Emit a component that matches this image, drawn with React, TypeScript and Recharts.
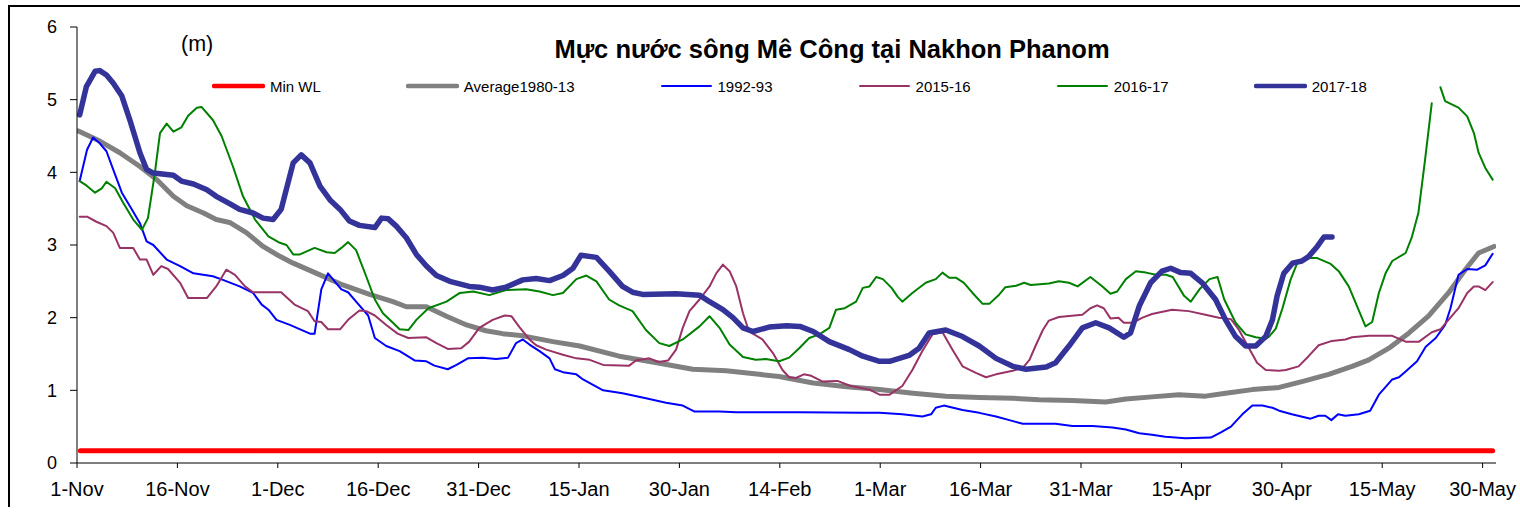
import React from "react";
import { LineChart, Line, XAxis, YAxis, Legend } from "recharts";

// day index from 1-Nov (points sit in the middle of each day slot)
const X_TICKS = [0, 15, 30, 45, 60, 75, 90, 105, 120, 135, 150, 165, 180, 195, 210];
const X_LABELS = [
  "1-Nov", "16-Nov", "1-Dec", "16-Dec", "31-Dec", "15-Jan", "30-Jan", "14-Feb",
  "1-Mar", "16-Mar", "31-Mar", "15-Apr", "30-Apr", "15-May", "30-May",
];
const Y_TICKS = [0, 1, 2, 3, 4, 5, 6];

type Pt = [number, number | null];

const MIN_WL: Pt[] = [[0.5, 0.17], [211.5, 0.17]];

const AVG_1980_13: Pt[] = [
  [0.2, 4.57], [3.4, 4.43], [6.4, 4.27], [9.4, 4.08], [11.9, 3.9], [14.4, 3.67], [16.4, 3.54],
  [18.9, 3.44], [20.8, 3.35], [22.8, 3.31], [25.3, 3.17], [27.8, 2.98], [29.8, 2.87], [32.3, 2.75],
  [35.8, 2.61], [39.7, 2.45], [43.7, 2.32], [47.2, 2.22], [49.2, 2.15], [52.2, 2.15], [55.2, 2.02],
  [58.2, 1.9], [61.1, 1.82], [63.6, 1.78], [66.6, 1.75], [71.1, 1.67], [75.1, 1.61], [81, 1.47],
  [86, 1.39], [92, 1.29], [97, 1.27], [101.9, 1.22], [104.9, 1.19], [110, 1.1], [115, 1.05],
  [119.9, 1.01], [124.9, 0.96], [129.8, 0.92], [134.8, 0.9], [139.8, 0.89], [143.7, 0.87],
  [148.7, 0.86], [153.7, 0.84], [156.7, 0.88], [160.6, 0.91], [164.6, 0.94], [168.6, 0.92],
  [171.6, 0.96], [175.6, 1.01], [179.6, 1.04], [183, 1.12], [187, 1.22], [190.5, 1.33], [193, 1.42],
  [196, 1.58], [199, 1.79], [201.9, 2.02], [204.9, 2.34], [207.4, 2.66], [209.4, 2.89], [211.7, 2.98],
];

const Y1992_93: Pt[] = [
  [0.4, 3.88], [1.5, 4.31], [2.4, 4.48], [3.4, 4.4], [4.4, 4.29], [5.4, 4.04], [6.7, 3.72], [8.2, 3.49],
  [9.4, 3.3], [10.4, 3.05], [11.4, 3.0], [13.4, 2.8], [15.4, 2.71], [17.4, 2.61], [20.3, 2.57],
  [21.8, 2.52], [24.3, 2.43], [26.3, 2.34], [27.6, 2.18], [28.6, 2.11], [29.8, 1.97], [31.8, 1.9],
  [34.8, 1.78], [35.5, 1.78], [36.5, 2.39], [37.5, 2.61], [39.5, 2.39], [40.5, 2.35], [41.7, 2.22],
  [43.5, 2.03], [44.5, 1.72], [46.2, 1.61], [48.2, 1.54], [50.5, 1.41], [52.2, 1.4], [53.4, 1.34],
  [55.4, 1.29], [56.7, 1.35], [58.4, 1.44], [60.6, 1.45], [62.6, 1.43], [64.4, 1.45], [65.6, 1.65],
  [66.6, 1.7], [67.6, 1.63], [69.1, 1.54], [70.6, 1.44], [71.4, 1.29], [72.6, 1.25], [74.6, 1.22],
  [75.6, 1.15], [78.6, 1.0], [81.5, 0.96], [85, 0.89], [88, 0.83], [90.5, 0.79], [92.2, 0.71],
  [96, 0.71], [98.5, 0.7], [108, 0.7], [117.4, 0.69], [119.9, 0.69], [123.3, 0.67], [126.3, 0.64],
  [127.6, 0.67], [128.3, 0.76], [129.5, 0.79], [132.3, 0.73], [134.8, 0.69], [137.3, 0.64],
  [139.3, 0.59], [141.3, 0.54], [143.7, 0.54], [146.2, 0.54], [148.7, 0.51], [151.7, 0.51],
  [154.7, 0.49], [156.7, 0.46], [158.7, 0.41], [160.6, 0.39], [162.6, 0.36], [165.6, 0.34],
  [169.4, 0.35], [170.9, 0.42], [172.4, 0.5], [174.1, 0.67], [175.6, 0.79], [177.1, 0.79],
  [178.6, 0.76], [179.6, 0.72], [181.5, 0.67], [184.3, 0.61], [185.5, 0.65], [186.5, 0.65],
  [187.4, 0.59], [188.4, 0.67], [189.5, 0.65], [191.5, 0.67], [193.2, 0.72], [194.5, 0.94],
  [196.5, 1.15], [197.5, 1.18], [198.5, 1.26], [200.2, 1.4], [201.5, 1.6], [203, 1.72], [204.4, 1.9],
  [205.2, 2.13], [206.4, 2.59], [207.7, 2.67], [209.2, 2.66], [210.4, 2.72], [211.5, 2.88],
];

const Y2015_16: Pt[] = [
  [0.4, 3.39], [1.5, 3.39], [2.9, 3.32], [4.4, 3.26], [5.4, 3.17], [6.4, 2.96], [8.4, 2.96], [9.4, 2.8],
  [10.4, 2.8], [11.4, 2.59], [12.6, 2.71], [13.6, 2.67], [15.4, 2.48], [16.6, 2.27], [19.4, 2.27],
  [20.8, 2.43], [22.3, 2.66], [23.6, 2.59], [25.1, 2.43], [26.3, 2.35], [30.5, 2.35], [32.5, 2.18],
  [34.5, 2.09], [35.5, 1.95], [36.5, 1.94], [37.5, 1.84], [39.3, 1.84], [40.5, 1.97], [42.2, 2.1],
  [43.2, 2.09], [44.5, 2.03], [46.2, 1.9], [47.9, 1.78], [49.5, 1.72], [52.2, 1.73], [53.7, 1.65],
  [55.4, 1.57], [57.4, 1.58], [58.6, 1.67], [60.1, 1.86], [62.1, 1.97], [63.9, 2.03], [64.9, 2.02],
  [66.1, 1.87], [67.6, 1.7], [68.6, 1.62], [70.1, 1.56], [72.6, 1.49], [74.6, 1.44], [76.6, 1.42],
  [78.6, 1.35], [82.5, 1.34], [83.5, 1.41], [85.5, 1.44], [86.9, 1.39], [88.3, 1.41], [89.5, 1.56],
  [90.5, 1.86], [91.5, 2.09], [93, 2.25], [94.5, 2.43], [95.5, 2.61], [96.5, 2.73], [97.5, 2.64],
  [98.5, 2.43], [99.5, 2.06], [100.4, 1.81], [102.4, 1.7], [104, 1.51], [105.4, 1.28], [106.4, 1.18],
  [107.4, 1.17], [108.6, 1.22], [109.7, 1.2], [111.4, 1.12], [113.6, 1.13], [115.6, 1.06],
  [118.4, 1.01], [119.9, 0.94], [121.4, 0.94], [123.3, 1.06], [124.8, 1.28], [126.3, 1.54],
  [127.8, 1.77], [129.3, 1.8], [130.8, 1.56], [132.3, 1.33], [134.3, 1.24], [135.8, 1.18],
  [137.3, 1.22], [139.8, 1.27], [141.3, 1.31], [142.3, 1.42], [143.2, 1.61], [144.3, 1.83],
  [145.2, 1.96], [146.7, 2.01], [150.2, 2.04], [151.4, 2.13], [152.4, 2.17], [153.4, 2.13],
  [154.4, 1.99], [155.6, 2.0], [156.4, 1.93], [157.7, 1.93], [159.2, 2.0], [160.6, 2.05],
  [163.6, 2.11], [166.1, 2.09], [168.6, 2.04], [170.6, 2.0], [172.4, 1.98], [173.6, 1.83],
  [175.1, 1.58], [176.3, 1.38], [177.6, 1.28], [179.6, 1.27], [180.6, 1.28], [182.5, 1.33],
  [184, 1.47], [185.5, 1.62], [187.5, 1.68], [189.5, 1.7], [190.5, 1.73], [193, 1.75], [196.5, 1.75],
  [198.5, 1.67], [200.5, 1.67], [202.4, 1.8], [203.7, 1.84], [204.9, 1.97], [206.4, 2.13],
  [207.7, 2.34], [208.7, 2.43], [209.4, 2.43], [210.4, 2.38], [211.5, 2.49],
];

const Y2016_17: Pt[] = [
  [0.4, 3.88], [1.4, 3.82], [2.7, 3.72], [3.7, 3.78], [4.4, 3.87], [5.7, 3.78], [6.9, 3.58], [8.4, 3.35],
  [9.7, 3.21], [10.6, 3.37], [11.6, 3.97], [12.4, 4.54], [13.4, 4.67], [14.4, 4.56], [15.6, 4.62],
  [16.6, 4.78], [17.9, 4.89], [18.6, 4.9], [20.3, 4.72], [21.6, 4.5], [23.3, 4.08], [24.8, 3.67],
  [26.6, 3.35], [28.6, 3.12], [30.3, 3.03], [31.3, 3.0], [32.3, 2.87], [33.3, 2.87], [35.5, 2.96],
  [37.3, 2.9], [38.5, 2.89], [39.5, 2.96], [40.5, 3.04], [41.7, 2.93], [43.2, 2.57], [44.5, 2.25],
  [45.7, 2.06], [47.2, 1.93], [48.2, 1.84], [49.5, 1.83], [50.7, 1.97], [52.5, 2.13], [55.2, 2.22],
  [57.2, 2.34], [59.2, 2.36], [61.6, 2.31], [64.1, 2.38], [67.1, 2.39], [69.1, 2.36], [71.1, 2.31],
  [72.6, 2.34], [74.6, 2.53], [76.1, 2.58], [77.6, 2.5], [79.5, 2.25], [81, 2.17], [83, 2.09],
  [85, 1.83], [87, 1.65], [88.5, 1.61], [90.5, 1.7], [93, 1.88], [94.5, 2.02], [96, 1.86],
  [97.5, 1.63], [99.5, 1.46], [101.4, 1.42], [102.9, 1.43], [104.9, 1.4], [106.4, 1.45],
  [107.9, 1.58], [109.4, 1.72], [110.9, 1.77], [112.4, 1.86], [113.4, 2.11], [114.7, 2.13],
  [116.4, 2.22], [117.4, 2.41], [118.4, 2.43], [119.4, 2.56], [120.4, 2.53], [121.7, 2.41],
  [122.6, 2.29], [123.3, 2.22], [124.8, 2.34], [126.8, 2.48], [128.3, 2.53], [129.3, 2.62],
  [130.3, 2.55], [131.3, 2.55], [132.5, 2.48], [133.8, 2.34], [135.3, 2.19], [136.3, 2.19],
  [137.8, 2.32], [138.7, 2.42], [140.3, 2.44], [141.5, 2.48], [142.5, 2.45], [145.2, 2.47],
  [146.7, 2.5], [148.2, 2.48], [149.5, 2.43], [151.4, 2.56], [153.2, 2.43], [154.4, 2.33],
  [155.4, 2.36], [156.7, 2.53], [158.2, 2.64], [159.7, 2.62], [161.2, 2.59], [162.7, 2.59],
  [163.7, 2.56], [165.4, 2.3], [166.4, 2.22], [167.7, 2.39], [169.2, 2.53], [170.4, 2.56],
  [171.4, 2.25], [173.1, 1.93], [174.6, 1.77], [176.1, 1.73], [177.6, 1.71], [178.1, 1.74],
  [179.1, 1.85], [180.1, 2.13], [181.3, 2.52], [182.3, 2.75], [183.3, 2.82], [185.3, 2.82],
  [187.3, 2.74], [188.5, 2.64], [190, 2.43], [192.5, 1.88], [193.5, 1.94], [194.5, 2.34],
  [195.5, 2.61], [196.5, 2.78], [198.5, 2.89], [199.4, 3.1], [200.4, 3.44], [201.4, 4.17],
  [202.4, 4.95], [203, null], [203.7, 5.17], [204.4, 4.98], [206.4, 4.89], [207.7, 4.77],
  [208.7, 4.54], [209.4, 4.27], [210.4, 4.06], [211.5, 3.9],
];

const Y2017_18: Pt[] = [
  [0.4, 4.79], [1.4, 5.18], [2.7, 5.39], [3.4, 5.4], [4.4, 5.34], [5.4, 5.23], [6.7, 5.05], [7.9, 4.72],
  [9.4, 4.27], [10.4, 4.04], [11.4, 3.99], [14.4, 3.96], [15.6, 3.88], [17.4, 3.84], [19.4, 3.76],
  [20.8, 3.67], [22.8, 3.57], [24.3, 3.49], [26.3, 3.44], [27.8, 3.37], [29.3, 3.35], [30.5, 3.49],
  [32.3, 4.13], [33.5, 4.24], [34.8, 4.13], [36.3, 3.81], [37.8, 3.62], [39.3, 3.49], [40.7, 3.33],
  [42.2, 3.27], [44.5, 3.24], [45.5, 3.37], [46.5, 3.36], [47.7, 3.26], [49.2, 3.1], [50.7, 2.87],
  [52.2, 2.71], [53.7, 2.58], [55.7, 2.5], [58.6, 2.43], [60.1, 2.42], [62.1, 2.38], [64.1, 2.42],
  [66.6, 2.52], [68.6, 2.54], [70.6, 2.51], [72.6, 2.58], [74.1, 2.68], [75.3, 2.86], [77.6, 2.83],
  [79.5, 2.64], [81.5, 2.43], [83, 2.35], [84.5, 2.32], [89.5, 2.33], [93, 2.31], [94.5, 2.22],
  [96.5, 2.11], [98, 2.0], [99.5, 1.86], [101, 1.81], [103.4, 1.87], [106, 1.89], [108, 1.88],
  [110, 1.81], [112.4, 1.67], [115.4, 1.56], [117.4, 1.47], [119.9, 1.4], [121.4, 1.4], [124.3, 1.48],
  [125.8, 1.58], [127.3, 1.79], [129.8, 1.83], [132.3, 1.74], [134.8, 1.61], [137.3, 1.44],
  [139.8, 1.33], [141.8, 1.29], [144.8, 1.32], [146.2, 1.38], [148.2, 1.61], [150.2, 1.86],
  [152.2, 1.93], [154.2, 1.86], [156.4, 1.73], [157.4, 1.79], [158.7, 2.16], [160.4, 2.48],
  [162.1, 2.64], [163.4, 2.68], [164.9, 2.62], [166.4, 2.61], [168.1, 2.48], [170.1, 2.25],
  [171.6, 1.97], [173.1, 1.74], [174.6, 1.61], [176.1, 1.61], [177.6, 1.74], [178.6, 1.97],
  [179.3, 2.3], [180.3, 2.61], [181.6, 2.75], [183, 2.78], [184, 2.84], [185.3, 2.98], [186.3, 3.11],
  [187.5, 3.11],
];

const SERIES = [
  { name: "Min WL", data: MIN_WL, color: "#FF0000", width: 5, legendWidth: 4.5 },
  { name: "Average1980-13", data: AVG_1980_13, color: "#808080", width: 5, legendWidth: 4.5 },
  { name: "1992-93", data: Y1992_93, color: "#0000FF", width: 2, legendWidth: 2 },
  { name: "2015-16", data: Y2015_16, color: "#993366", width: 2, legendWidth: 2 },
  { name: "2016-17", data: Y2016_17, color: "#008000", width: 2, legendWidth: 2 },
  { name: "2017-18", data: Y2017_18, color: "#333399", width: 5.5, legendWidth: 4.5 },
];

const FONT = "Arial, 'Liberation Sans', sans-serif";

const toRows = (pts: Pt[]) => pts.map(([d, v]) => ({ d, v }));

const LegendRow = () => (
  <div style={{ display: "flex", alignItems: "center", gap: 85, fontFamily: FONT, fontSize: 15, color: "#000" }}>
    {SERIES.map((s) => (
      <div key={s.name} style={{ display: "flex", alignItems: "center", height: 20, whiteSpace: "nowrap" }}>
        <svg width={53} height={8} style={{ display: "block" }}>
          <line x1={2} x2={51} y1={4} y2={4} stroke={s.color} strokeWidth={s.legendWidth} strokeLinecap="round" />
        </svg>
        <span style={{ marginLeft: 5 }}>{s.name}</span>
      </div>
    ))}
  </div>
);

export default function App() {
  return (
    <div
      style={{
        position: "absolute",
        top: 5,
        left: 8,
        width: 1510,
        height: 500,
        borderTop: "2px solid #000",
        borderLeft: "2px solid #000",
        background: "#fff",
        fontFamily: FONT,
      }}
    >
      <LineChart width={1508} height={496} margin={{ top: 20, right: 22, bottom: 0, left: 0 }}>
        <XAxis
          dataKey="d"
          type="number"
          domain={[0, 212]}
          ticks={X_TICKS}
          allowDataOverflow
          tickFormatter={(v: number) => X_LABELS[X_TICKS.indexOf(v)] ?? ""}
          tick={{ fontSize: 20, fill: "#000", fontFamily: FONT }}
          tickSize={5}
          tickMargin={14}
          height={40}
          axisLine={{ stroke: "#000" }}
          tickLine={{ stroke: "#000" }}
          interval={0}
        />
        <YAxis
          type="number"
          domain={[0, 6]}
          ticks={Y_TICKS}
          tick={{ fontSize: 18, fill: "#000", fontFamily: FONT }}
          tickSize={7}
          tickMargin={13}
          width={67}
          axisLine={{ stroke: "#000" }}
          tickLine={{ stroke: "#000" }}
          interval={0}
        />
        <Legend
          layout="horizontal"
          verticalAlign="middle"
          align="center"
          content={<LegendRow />}
          wrapperStyle={{ top: 69, left: 202, width: 1250 }}
        />
        {SERIES.map((s) => (
          <Line
            key={s.name}
            name={s.name}
            data={toRows(s.data)}
            dataKey="v"
            type="linear"
            stroke={s.color}
            strokeWidth={s.width}
            strokeLinecap="round"
            strokeLinejoin="round"
            dot={false}
            activeDot={false}
            isAnimationActive={false}
          />
        ))}
      </LineChart>
      <svg
        width={1508}
        height={80}
        style={{ position: "absolute", left: 0, top: 0, pointerEvents: "none" }}
      >
        <text x={822} y={51} textAnchor="middle" fontFamily={FONT} fontSize={25.5} fontWeight="bold" fill="#000">
          Mực nước sông Mê Công tại Nakhon Phanom
        </text>
        <text x={171} y={44} fontFamily={FONT} fontSize={21.5} fill="#000">
          (m)
        </text>
      </svg>
    </div>
  );
}
